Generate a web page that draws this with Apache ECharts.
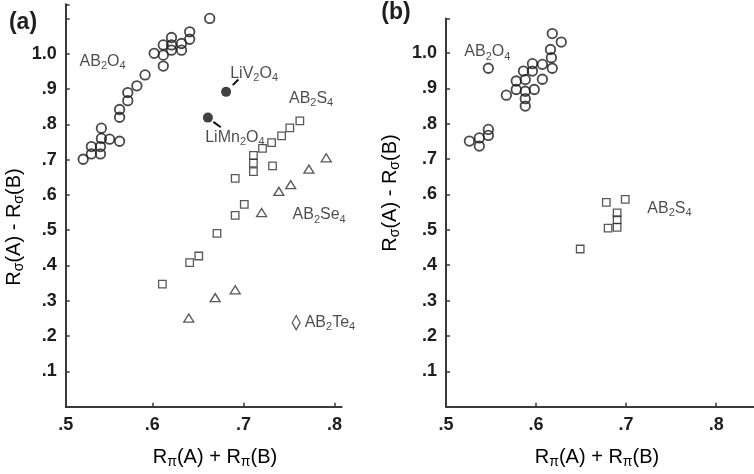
<!DOCTYPE html>
<html>
<head>
<meta charset="utf-8">
<script src="https://cdn.jsdelivr.net/npm/echarts@6/dist/echarts.min.js"></script>
<style>
  html, body { margin: 0; padding: 0; background: #ffffff; }
  #chart { width: 754px; height: 474px; }
</style>
</head>
<body>
<div id="chart"></div>
<script>
// ---- Panel (a): all spinels --------------------------------------------
// [Rpi(A)+Rpi(B), Rsigma(A)-Rsigma(B)]
const oxidesA = [
  [0.524, 0.701], [0.533, 0.716], [0.533, 0.737], [0.543, 0.716], [0.543, 0.737],
  [0.544, 0.760], [0.544, 0.789], [0.553, 0.758], [0.564, 0.752], [0.564, 0.820],
  [0.564, 0.842], [0.573, 0.867], [0.573, 0.890], [0.583, 0.909], [0.592, 0.940],
  [0.602, 1.001], [0.612, 0.965], [0.612, 0.996], [0.612, 1.025], [0.621, 1.025],
  [0.621, 1.046], [0.621, 1.010], [0.632, 1.010], [0.632, 1.029], [0.641, 1.041],
  [0.641, 1.062], [0.663, 1.100]
];
const lithiumSpinelNames = ['LiV2O4', 'LiMn2O4'];
const lithiumSpinels = [[0.681, 0.892], [0.661, 0.819]];
const sulfidesA = [
  [0.762, 0.810], [0.751, 0.790], [0.742, 0.767], [0.731, 0.748], [0.721, 0.732],
  [0.711, 0.712], [0.711, 0.690], [0.711, 0.666], [0.732, 0.682], [0.691, 0.647],
  [0.701, 0.573], [0.691, 0.542], [0.671, 0.491], [0.641, 0.408], [0.651, 0.427],
  [0.611, 0.347]
];
const selenidesA = [
  [0.791, 0.705], [0.772, 0.673], [0.752, 0.629], [0.739, 0.610], [0.720, 0.550],
  [0.691, 0.331], [0.669, 0.309], [0.640, 0.251]
];
const telluridesA = [[0.758, 0.238]];

// ---- Panel (b) ----------------------------------------------------------
const oxidesB = [
  [0.526, 0.751], [0.537, 0.737], [0.537, 0.760], [0.547, 0.767], [0.547, 0.784],
  [0.547, 0.957], [0.567, 0.881], [0.578, 0.897], [0.578, 0.921], [0.586, 0.949],
  [0.588, 0.925], [0.588, 0.892], [0.588, 0.871], [0.588, 0.850], [0.596, 0.970],
  [0.596, 0.949], [0.598, 0.897], [0.607, 0.968], [0.607, 0.926], [0.617, 0.987],
  [0.616, 1.010], [0.618, 0.957], [0.618, 1.055], [0.628, 1.031]
];
const sulfidesB = [
  [0.678, 0.578], [0.699, 0.586], [0.690, 0.548], [0.690, 0.529], [0.690, 0.507],
  [0.680, 0.505], [0.649, 0.446]
];

// Tick labels
const xTickLabels = ['.5', '.6', '.7', '.8'];
const yTickLabels = ['.1', '.2', '.3', '.4', '.5', '.6', '.7', '.8', '.9', '1.0'];

// ---- styling helpers ----------------------------------------------------
const FONT = '"Liberation Sans", Arial, sans-serif';
const INK = '#1e1e1e';
const AXIS = '#3a3a3a';

const subRich = (size, sub) => ({
  m: { fontFamily: FONT, fontSize: size, color: INK, lineHeight: size + 4 },
  s: { fontFamily: FONT, fontSize: sub, color: INK, lineHeight: sub, verticalAlign: 'bottom' }
});
// 'AB2O4' -> rich text with subscript digits
const formula = s => s.replace(/(\d+)/g, '}{s|$1}{m|').replace(/^/, '{m|') + '}';

const nearTenth = v => Math.abs(v * 10 - Math.round(v * 10)) < 0.01;
const yFmt = v => {
  if (!nearTenth(v)) return '';
  const i = Math.round(v * 10);
  return (i >= 1 && i <= 10) ? yTickLabels[i - 1] : '';
};
const xFmt = v => (nearTenth(v) ? (xTickLabels[Math.round(v * 10) - 5] || '') : '');

function makeX(gridIndex, min, max, custom) {
  const ax = {
    type: 'value', gridIndex, min, max,
    axisLine: { show: true, onZero: false, lineStyle: { color: AXIS, width: 2 } },
    axisTick: { show: true, inside: true, length: 4, lineStyle: { color: AXIS, width: 1.5 } },
    axisLabel: { show: true, margin: 9, fontFamily: FONT, fontWeight: 'bold', fontSize: 18, color: INK, formatter: xFmt },
    splitLine: { show: false }
  };
  if (custom) {
    ax.axisLabel.customValues = custom.labels;
    ax.axisTick.customValues = custom.ticks;
    ax.axisLabel.formatter = v => (v < 0.55 ? '.5' : xFmt(v));
  } else {
    ax.interval = 0.1;
    ax.axisLabel.showMaxLabel = false;
  }
  return ax;
}
function makeY(gridIndex, max) {
  return {
    type: 'value', gridIndex, min: 0, max, interval: 0.1,
    axisLine: { show: true, onZero: false, lineStyle: { color: AXIS, width: 2 } },
    axisTick: { show: true, inside: true, length: 4, lineStyle: { color: AXIS, width: 1.5 } },
    axisLabel: { show: true, margin: 9, fontFamily: FONT, fontWeight: 'bold', fontSize: 18, color: INK, formatter: yFmt },
    splitLine: { show: false }
  };
}

const hollow = { color: 'rgba(0,0,0,0)', borderColor: '#1a1a1a', borderWidth: 1.8 };
const hollowThin = { color: 'rgba(0,0,0,0)', borderColor: '#2e2e2e', borderWidth: 1.3 };

function groupLabels(gridIndex, items) {
  return {
    type: 'scatter', xAxisIndex: gridIndex, yAxisIndex: gridIndex,
    symbolSize: 0, silent: true, z: 5,
    data: items.map(it => ({ value: it.at, name: it.text })),
    label: {
      show: true, position: 'inside',
      formatter: p => formula(p.name),
      rich: subRich(16, 11)
    }
  };
}

const centered = { x: 0, y: 0, align: 'center', verticalAlign: 'middle', textAlign: 'center', textVerticalAlign: 'middle' };

const option = {
  animation: false,
  backgroundColor: '#ffffff',
  grid: [
    { left: 65.7, top: 4.3, width: 276, height: 402.4 },
    { left: 446, top: 18.4, width: 308, height: 388.3 }
  ],
  xAxis: [
    makeX(0, 0.5048, 0.808, { labels: [0.5048, 0.6, 0.7, 0.8], ticks: [0.6, 0.7, 0.8] }),
    makeX(1, 0.5, 0.842)
  ],
  yAxis: [makeY(0, 1.14), makeY(1, 1.098)],
  series: [
    { type: 'scatter', name: 'AB2O4 (a)', xAxisIndex: 0, yAxisIndex: 0,
      symbol: 'circle', symbolSize: 9.5, itemStyle: hollow, data: oxidesA },
    { type: 'scatter', name: 'Li spinels', xAxisIndex: 0, yAxisIndex: 0,
      symbol: 'circle', symbolSize: 10, itemStyle: { color: '#111111' },
      data: lithiumSpinels.map((v, i) => ({
        value: v, name: lithiumSpinelNames[i],
        label: { offset: i === 0 ? [28, -18] : [27, 20] }
      })),
      label: { show: true, position: 'inside', formatter: p => formula(p.name), rich: subRich(16, 11) },
      markLine: {
        silent: true, symbol: 'none', animation: false,
        lineStyle: { color: '#111111', width: 2, type: 'solid' },
        label: { show: false },
        data: [
          [{ coord: [0.6883, 0.911] }, { coord: [0.6945, 0.927] }],
          [{ coord: [0.6670, 0.807] }, { coord: [0.6752, 0.7915] }]
        ]
      }
    },
    { type: 'scatter', name: 'AB2S4 (a)', xAxisIndex: 0, yAxisIndex: 0,
      symbol: 'rect', symbolSize: 7.5, itemStyle: hollowThin, data: sulfidesA },
    { type: 'scatter', name: 'AB2Se4 (a)', xAxisIndex: 0, yAxisIndex: 0,
      symbol: 'triangle', symbolSize: [10, 8], itemStyle: hollowThin, data: selenidesA },
    { type: 'scatter', name: 'AB2Te4 (a)', xAxisIndex: 0, yAxisIndex: 0,
      symbol: 'diamond', symbolSize: [8, 14], itemStyle: hollowThin,
      data: telluridesA.map(v => ({ value: v, name: 'AB2Te4' })),
      label: { show: true, position: 'right', distance: 4, formatter: p => formula(p.name), rich: subRich(16, 11) } },
    groupLabels(0, [
      { text: 'AB2O4', at: [0.5453, 0.979] },
      { text: 'AB2S4', at: [0.7744, 0.872] },
      { text: 'AB2Se4', at: [0.7832, 0.543] }
    ]),
    { type: 'scatter', name: 'AB2O4 (b)', xAxisIndex: 1, yAxisIndex: 1,
      symbol: 'circle', symbolSize: 9.5, itemStyle: hollow, data: oxidesB },
    { type: 'scatter', name: 'AB2S4 (b)', xAxisIndex: 1, yAxisIndex: 1,
      symbol: 'rect', symbolSize: 7.5, itemStyle: hollowThin, data: sulfidesB },
    groupLabels(1, [
      { text: 'AB2O4', at: [0.5459, 1.003] },
      { text: 'AB2S4', at: [0.7481, 0.560] }
    ])
  ],
  graphic: [
    { type: 'text', x: 23, y: 23, style: Object.assign({ text: '(a)', font: 'bold 23px ' + FONT, fill: INK }, centered) },
    { type: 'text', x: 396, y: 13, style: Object.assign({ text: '(b)', font: 'bold 23px ' + FONT, fill: INK }, centered) },
    // axis titles
    ...[[14, 227], [390, 193]].map(([x, y]) => ({
      type: 'text', x, y, rotation: Math.PI / 2,
      style: Object.assign({ text: '{m|R}{s|σ}{m|(A) - R}{s|σ}{m|(B)}', rich: subRich(20, 14) }, centered)
    })),
    ...[[215, 457], [597, 457]].map(([x, y]) => ({
      type: 'text', x, y,
      style: Object.assign({ text: '{m|R}{s|π}{m|(A) + R}{s|π}{m|(B)}', rich: subRich(20, 14) }, centered)
    }))
  ]
};

const chart = echarts.init(document.getElementById('chart'), null, { renderer: 'canvas' });
chart.setOption(option);
</script>
</body>
</html>
